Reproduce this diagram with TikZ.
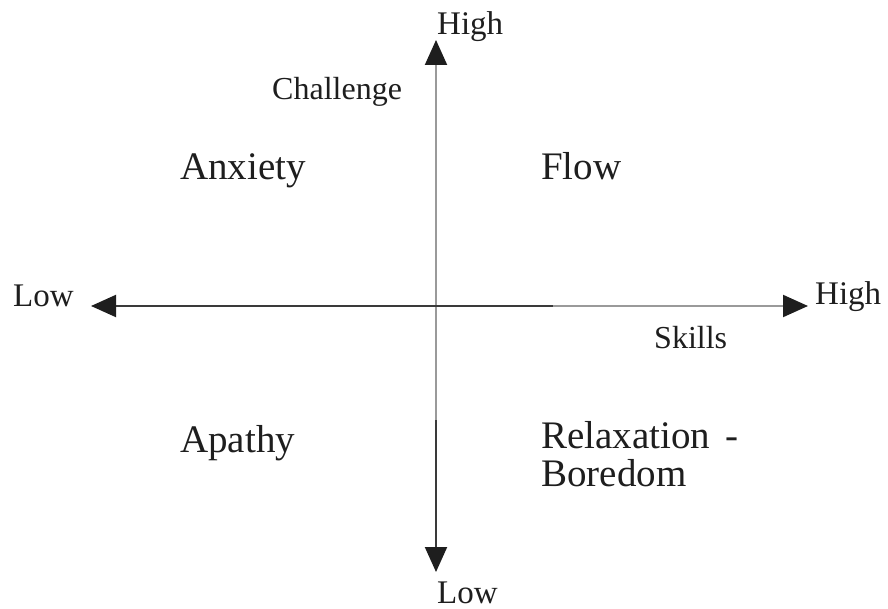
\documentclass[tikz,border=0pt]{standalone}
\usepackage{fontspec}
\setmainfont{Liberation Serif}
\usetikzlibrary{arrows.meta}
\definecolor{inkc}{HTML}{1E1E1E}
\definecolor{axisdark}{HTML}{3A3A3A}
\definecolor{axislight}{HTML}{9A9A9A}
\begin{document}
\begin{tikzpicture}[x=1pt,y=-1pt,
  big/.style={font=\fontsize{39}{41}\selectfont, text=inkc, inner sep=0pt, anchor=base west},
  axlab/.style={font=\fontsize{33}{35}\selectfont, text=inkc, inner sep=0pt, anchor=base west},
  small/.style={font=\fontsize{32}{34}\selectfont, text=inkc, inner sep=0pt, anchor=base west},
  tip/.style={-{Triangle[length=25pt,width=22pt]}, line width=2pt, color=inkc},
  darkline/.style={line width=2pt, color=axisdark},
  lightline/.style={line width=2pt, color=axislight}]
\useasboundingbox (0,0) rectangle (888,609);
\fill[white] (0,0) rectangle (888,609);
% axis coordinates
\coordinate (O) at (436,306);
\coordinate (T) at (436,40);
\coordinate (B) at (436,572);
\coordinate (L) at (91,306);
\coordinate (R) at (808,306);
\coordinate (Vsplit) at (436,420);
\coordinate (Hsplit) at (553,306);
% axes segments
\draw[lightline] (Vsplit) -- (436,62);
\draw[darkline] (Vsplit) -- (436,550);
\draw[darkline] (Hsplit) -- (112,306);
\draw[lightline] (Hsplit) -- (786,306);
% arrowheads
\draw[tip] (436,60) -- (T);
\draw[tip] (436,552) -- (B);
\draw[tip] (114,306) -- (L);
\draw[tip] (784,306) -- (R);
% labels
\node[axlab] (hightop) at (437,35) {High};
\node[small] (challenge) at (272,100) {Challenge};
\node[big] (anxiety) at (180,180) {Anxiety};
\node[big] (flow) at (541,180) {Flow};
\node[axlab] (lowleft) at (13,307) {Low};
\node[axlab] (highright) at (815,305) {High};
\node[small] (skills) at (654,348) {Skills};
\node[big] (apathy) at (180,452) {Apathy};
\node[big] (relax) at (541,448) {Relaxation\hspace{6pt} -};
\node[big] (boredom) at (541,486) {Boredom};
\node[axlab] (lowbottom) at (437,603) {Low};
\end{tikzpicture}
\end{document}
